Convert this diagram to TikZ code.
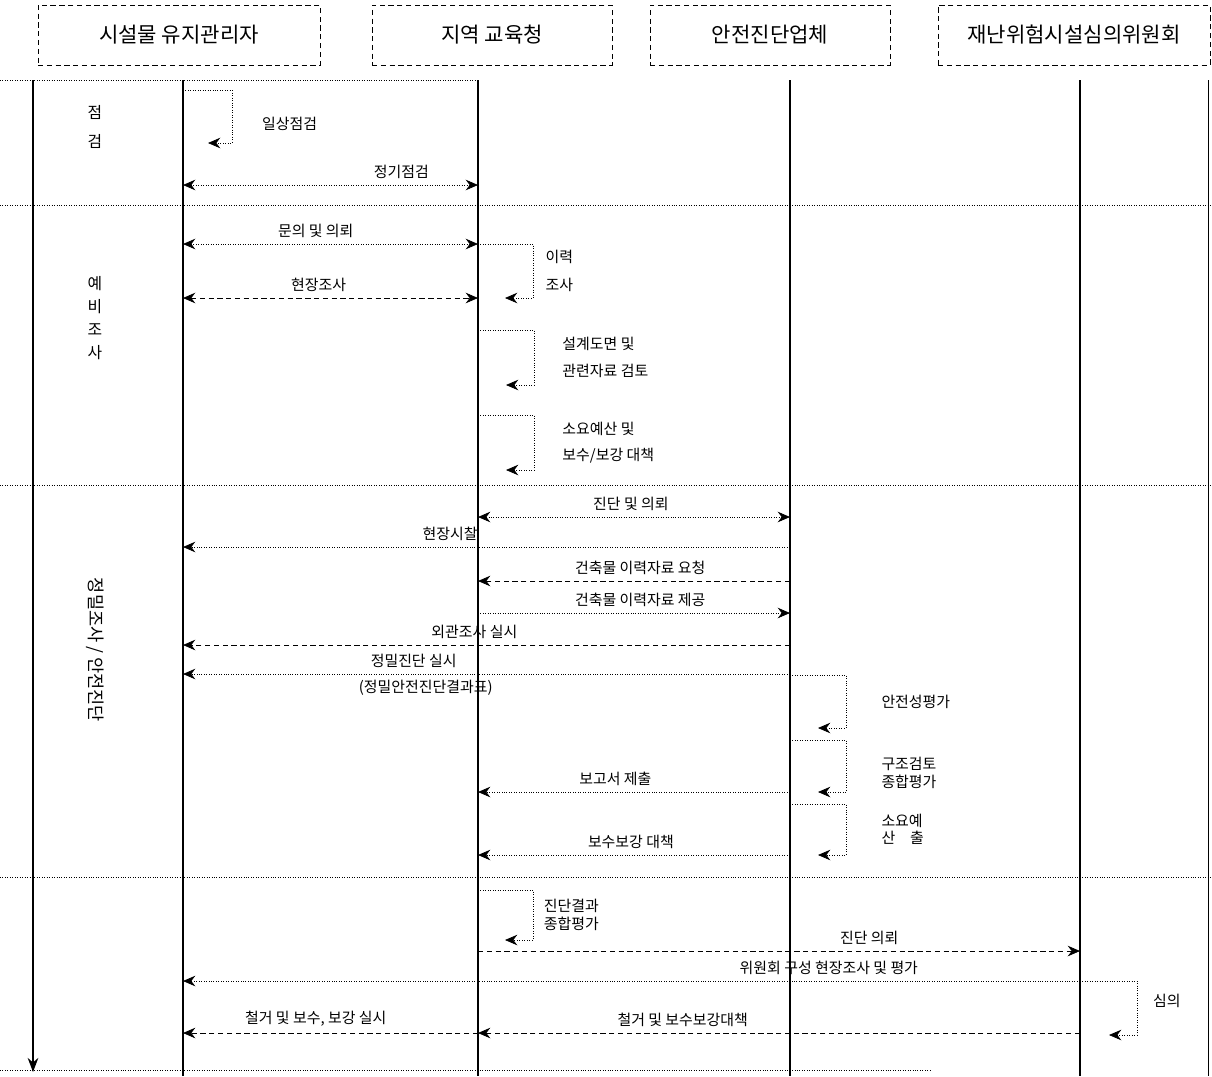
\documentclass[tikz,border=0pt]{standalone}
\usepackage{fontspec}
\setmainfont{Noto Sans CJK KR}
\usetikzlibrary{positioning,arrows.meta}

\begin{document}
\begin{tikzpicture}[
			x=0.02cm,y=-0.02cm,
			actor/.style={
				draw,
				densely dashed,
				minimum height=1.2cm,
				font=\fontsize{12}{14}\selectfont
			},
			phase/.style={
				align=center,
				font=\fontsize{9}{13}\selectfont
			},
			life/.style={
				very thick
			},
			sep/.style={
				densely dotted
			},
			msg/.style={
				densely dotted,
				-{Stealth[length=7pt,width=6pt]}
			},
			dmsg/.style={
				densely dotted,
				{Stealth[length=7pt,width=6pt]}-{Stealth[length=7pt,width=6pt]}
			},
			lbl/.style={
				above,
				font=\fontsize{8.5}{10}\selectfont
			},
			note/.style={
				anchor=west,
				align=left,
				inner sep=0pt,
				font=\fontsize{8.5}{10}\selectfont
			}
			]
			\useasboundingbox (0,0) rectangle (1212,1076);
			
			% Nodes
			\node[actor,minimum width=5.64cm] (hmgr) at (179,35) {시설물 유지관리자};
			\node[actor,minimum width=4.8cm] (hedu) at (492,35) {지역 교육청};
			\node[actor,minimum width=4.8cm] (hdiag) at (770,35) {안전진단업체};
			\node[actor,minimum width=5.44cm] (hcom) at (1074,35) {재난위험시설심의위원회};
			
			\coordinate (time) at (33,80);
			\coordinate (mgr) at (183,80);
			\coordinate (edu) at (478,80);
			\coordinate (diag) at (790,80);
			\coordinate (com) at (1080,80);
			\coordinate (rim) at (1208,80);
			
			\node[phase] (pcheck) at (95,127) {점\\[4pt]검};
			\node[phase] (ppre) at (95,318) {예\\비\\조\\사};
			\node[phase,rotate=-90,font=\fontsize{10}{12}\selectfont] (pfull) at (95,650) {정밀조사 / 안전진단};
			
			% Lines
			\foreach \n in {mgr,edu,diag,com}
			\draw[life] (\n) -- (\n |- 0,1076);
			\draw (rim) -- (rim |- 0,1076);
			\draw[very thick,-{Stealth[length=8pt,width=6pt]}] (time) -- (time |- 0,1072);
			\draw[sep] (0,80) -- (edu);
			\foreach \y in {205,485,877}
			\draw[sep] (0,\y) -- (1212,\y);
			\draw[sep] (0,1070) -- (930,1070);
			
			% Arrows
			\draw[msg] (mgr |- 0,90) -- ++(49,0) -- node[note,xshift=17pt,yshift=-4pt] {일상점검} ++(0,53) -- ++(-24,0);
			\draw[dmsg] (mgr |- 0,185) -- node[lbl,pos=.74] {정기점검} (edu |- 0,185);
			
			\draw[dmsg] (mgr |- 0,244) -- node[lbl,pos=.45] {문의 및 의뢰} (edu |- 0,244);
			\draw[msg] (edu |- 0,244) -- ++(55,0) -- node[note,xshift=7pt] {이력\\[6pt]조사} ++(0,54) -- ++(-28,0);
			\draw[dmsg,densely dashed] (mgr |- 0,298) -- node[lbl,pos=.46] {현장조사} (edu |- 0,298);
			\draw[msg] (edu |- 0,330) -- ++(56,0) -- node[note,xshift=16pt] {설계도면 및\\[5pt]관련자료 검토} ++(0,55) -- ++(-28,0);
			\draw[msg] (edu |- 0,415) -- ++(56,0) -- node[note,xshift=16pt] {소요예산 및\\[5pt]보수/보강 대책} ++(0,55) -- ++(-28,0);
			
			\draw[dmsg] (edu |- 0,517) -- node[lbl,pos=.49] {진단 및 의뢰} (diag |- 0,517);
			\draw[msg] (diag |- 0,547) -- node[lbl,pos=.56] {현장시찰} (mgr |- 0,547);
			\draw[msg,densely dashed] (diag |- 0,581) -- node[lbl,pos=.48] {건축물 이력자료 요청} (edu |- 0,581);
			\draw[msg] (edu |- 0,613) -- node[lbl,pos=.52] {건축물 이력자료 제공} (diag |- 0,613);
			\draw[msg,densely dashed] (diag |- 0,645) -- node[lbl,pos=.52] {외관조사 실시} (mgr |- 0,645);
			\draw[msg] (diag |- 0,674) -- node[lbl,pos=.62] {정밀진단 실시} node[lbl,below,pos=.6] {(정밀안전진단결과표)} (mgr |- 0,674);
			\draw[msg] (diag |- 0,675) -- ++(56,0) -- node[note,xshift=20pt] {안전성평가} ++(0,53) -- ++(-28,0);
			\draw[msg] (diag |- 0,740) -- ++(56,0) -- node[note,xshift=20pt,yshift=-4pt] {구조검토\\종합평가} ++(0,52) -- ++(-28,0);
			\draw[msg] (diag |- 0,792) -- node[lbl,pos=.56] {보고서 제출} (edu |- 0,792);
			\draw[msg] (diag |- 0,804) -- ++(56,0) -- node[note,xshift=20pt] {소요예\\산\quad 출} ++(0,51) -- ++(-28,0);
			\draw[msg] (diag |- 0,855) -- node[lbl,pos=.51] {보수보강 대책} (edu |- 0,855);
			
			\draw[msg] (edu |- 0,890) -- ++(55,0) -- node[note,xshift=6pt] {진단결과\\종합평가} ++(0,50) -- ++(-28,0);
			\draw[msg,densely dashed] (edu |- 0,951) -- node[lbl,pos=.65] {진단 의뢰} (com |- 0,951);
			\draw[msg] (com |- 0,981) -- node[lbl,pos=.28] {위원회 구성 현장조사 및 평가} (mgr |- 0,981);
			\draw[msg] (com |- 0,981) -- ++(57,0) -- node[note,xshift=9pt,yshift=4pt] {심의} ++(0,54) -- ++(-28,0);
			\draw[msg,densely dashed] (edu |- 0,1033) -- node[lbl,pos=.55] {철거 및 보수, 보강 실시} (mgr |- 0,1033);
			\draw[msg,densely dashed] (com |- 0,1033) -- node[lbl,pos=.66] {철거 및 보수보강대책} (edu |- 0,1033);
			
		\end{tikzpicture}
\end{document}
